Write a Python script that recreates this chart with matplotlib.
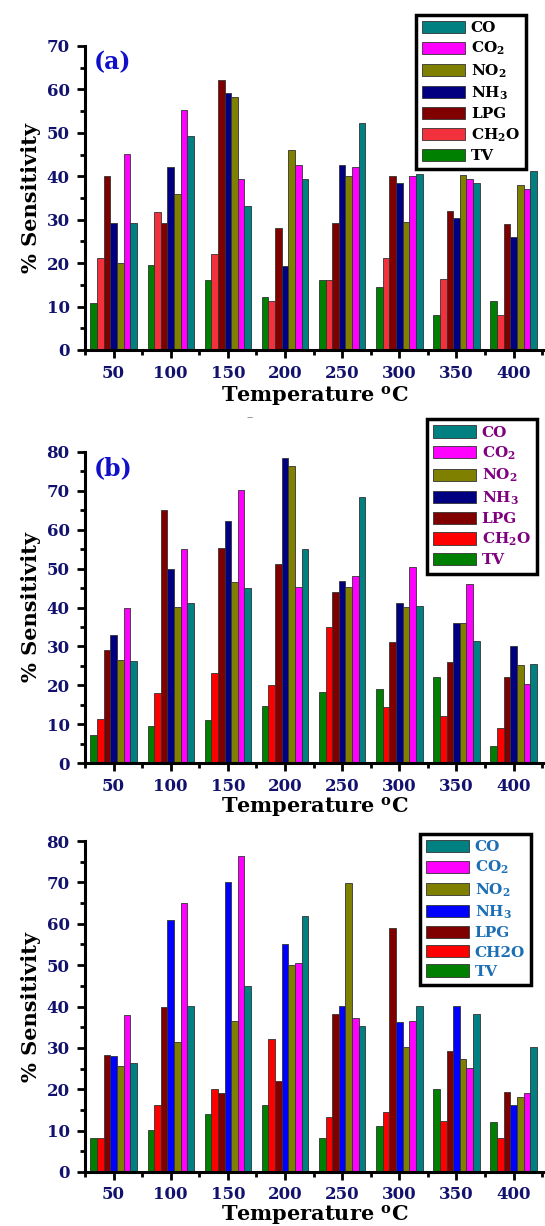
import matplotlib
matplotlib.use("Agg")
import matplotlib.pyplot as plt
from matplotlib.ticker import MultipleLocator
import numpy as np

temperatures = [50, 100, 150, 200, 250, 300, 350, 400]
gases = ["TV", "CH2O", "LPG", "NH3", "NO2", "CO2", "CO"]

# panel (a)
a_TV   = [10.8, 19.5, 16.2, 12.3, 16.1, 14.5, 8.1, 11.2]
a_CH2O = [21.2, 31.8, 22.0, 11.2, 16.2, 21.1, 16.4, 8.1]
a_LPG  = [40.0, 29.2, 62.2, 28.1, 29.3, 40.0, 32.0, 29.0]
a_NH3  = [29.3, 42.2, 59.2, 19.4, 42.5, 38.5, 30.3, 26.1]
a_NO2  = [20.0, 36.0, 58.2, 46.0, 40.0, 29.4, 40.2, 38.0]
a_CO2  = [45.2, 55.2, 39.3, 42.5, 42.2, 40.0, 39.4, 37.0]
a_CO   = [29.3, 49.2, 33.2, 39.3, 52.2, 40.5, 38.5, 41.2]

# panel (b)
b_TV   = [7.3, 9.4, 11.1, 14.6, 18.3, 19.1, 22.2, 4.5]
b_CH2O = [11.4, 18.0, 23.1, 20.1, 35.0, 14.5, 12.2, 9.0]
b_LPG  = [29.0, 65.1, 55.3, 51.1, 44.1, 31.0, 26.1, 22.0]
b_NH3  = [33.0, 49.9, 62.3, 78.4, 46.9, 41.1, 36.1, 30.1]
b_NO2  = [26.4, 40.2, 46.5, 76.5, 45.2, 40.1, 36.1, 25.2]
b_CO2  = [40.0, 55.1, 70.1, 45.2, 48.2, 50.3, 46.1, 20.4]
b_CO   = [26.2, 41.2, 45.1, 55.1, 68.5, 40.5, 31.3, 25.4]

# panel (c)
c_TV   = [8.3, 10.1, 14.1, 16.1, 8.3, 11.1, 20.1, 12.1]
c_CH2O = [8.3, 16.2, 20.1, 32.2, 13.3, 14.4, 12.3, 8.3]
c_LPG  = [28.3, 40.0, 19.1, 22.0, 38.1, 58.9, 29.2, 19.4]
c_NH3  = [28.0, 61.0, 70.0, 55.1, 40.2, 36.2, 40.2, 16.2]
c_NO2  = [25.5, 31.5, 36.5, 50.0, 69.9, 30.2, 27.2, 18.2]
c_CO2  = [38.0, 65.0, 76.4, 50.4, 37.2, 36.5, 25.1, 19.2]
c_CO   = [26.4, 40.1, 45.0, 61.9, 35.2, 40.2, 38.1, 30.1]

legend_order = ["CO", "CO2", "NO2", "NH3", "LPG", "CH2O", "TV"]
labels_sub = {"CO": "CO", "CO2": r"CO$_\mathbf{2}$", "NO2": r"NO$_\mathbf{2}$",
              "NH3": r"NH$_\mathbf{3}$", "LPG": "LPG", "CH2O": r"CH$_\mathbf{2}$O", "TV": "TV"}
labels_c = dict(labels_sub)
labels_c["CH2O"] = "CH2O"

col_a = {"TV": "#008000", "CH2O": "#F2313D", "LPG": "#800000", "NH3": "#000080",
         "NO2": "#808000", "CO2": "#FF00FF", "CO": "#008080"}
col_b = dict(col_a); col_b["CH2O"] = "#FF0000"
col_c = dict(col_b); col_c["NH3"] = "#0000FF"

plt.rcParams['font.family'] = ['DejaVu Serif']
plt.rcParams['mathtext.fontset'] = 'dejavuserif'
plt.rcParams['mathtext.default'] = 'bf'

W, H = 545, 1226
fig = plt.figure(figsize=(W/100, H/100), dpi=100)

def px_axes(top, bottom, left=85, right=545):
    return [left/W, 1-bottom/H, (right-left)/W, (bottom-top)/H]

panels = [
    (px_axes(46, 350), 70, [a_TV, a_CH2O, a_LPG, a_NH3, a_NO2, a_CO2, a_CO], col_a, labels_sub, "black", "(a)",
     (0.763, 0.988), 1, 5),
    (px_axes(452, 763), 80, [b_TV, b_CH2O, b_LPG, b_NH3, b_NO2, b_CO2, b_CO], col_b, labels_sub, "#800080", "(b)",
     (0.783, 0.658), 0, 5),
    (px_axes(841, 1172), 80, [c_TV, c_CH2O, c_LPG, c_NH3, c_NO2, c_CO2, c_CO], col_c, labels_c, "#1C6FB5", None,
     (0.770, 0.320), 0, 4),
]

bw = 5.8
x = np.array(temperatures, dtype=float)
for rect, ymax, series, cols, labs, legcol, tag, legpos, lpad, tpad in panels:
    ax = fig.add_axes(rect)
    handles = {}
    for i, (g, vals) in enumerate(zip(gases, series)):
        h = ax.bar(x + (i - 3) * bw, vals, width=bw, color=cols[g], edgecolor="#333333",
                   linewidth=0.6, label=labs[g], zorder=2)
        handles[g] = h
    ax.set_xlim(25, 25 + 460/1.143)
    ax.set_ylim(0, ymax)
    ax.set_xticks(temperatures)
    ax.xaxis.set_minor_locator(MultipleLocator(25))
    ax.yaxis.set_major_locator(MultipleLocator(10))
    ax.yaxis.set_minor_locator(MultipleLocator(5))
    for s in ["top", "right"]:
        ax.spines[s].set_visible(False)
    for s in ["left", "bottom"]:
        ax.spines[s].set_linewidth(2.2)
    ax.tick_params(which="major", direction="out", length=6, width=2, labelsize=12,
                   labelcolor="#12126E", pad=5)
    ax.tick_params(axis="x", which="major", pad=tpad)
    ax.tick_params(which="minor", direction="out", length=3.5, width=2)
    for lab in ax.get_xticklabels() + ax.get_yticklabels():
        lab.set_fontweight("bold")
    ax.set_xlabel(r"Temperature $^{\mathbf{o}}$C", fontsize=15, fontweight="bold", labelpad=lpad)
    ax.set_ylabel("% Sensitivity", fontsize=15, fontweight="bold", labelpad=4)
    if tag:
        ax.text(0.02, 0.985, tag, transform=ax.transAxes, fontsize=17, fontweight="bold",
                color="#1010C8", va="top", ha="left")
    leg = fig.legend([handles[g] for g in legend_order], [labs[g] for g in legend_order],
                     loc="upper left", bbox_to_anchor=legpos, fontsize=11,
                     frameon=True, fancybox=False, edgecolor="black", framealpha=1,
                     handlelength=2.8, handleheight=0.85, borderpad=0.4, labelspacing=0.32,
                     handletextpad=0.4, borderaxespad=0)
    leg.get_frame().set_linewidth(2.5)
    for t in leg.get_texts():
        t.set_fontweight("bold")
        t.set_color(legcol)

fig.text(250/W, 1-418/H, "\u2013", fontsize=9, color="#777777", ha="center", va="center")

fig.savefig("out.png", dpi=100)
